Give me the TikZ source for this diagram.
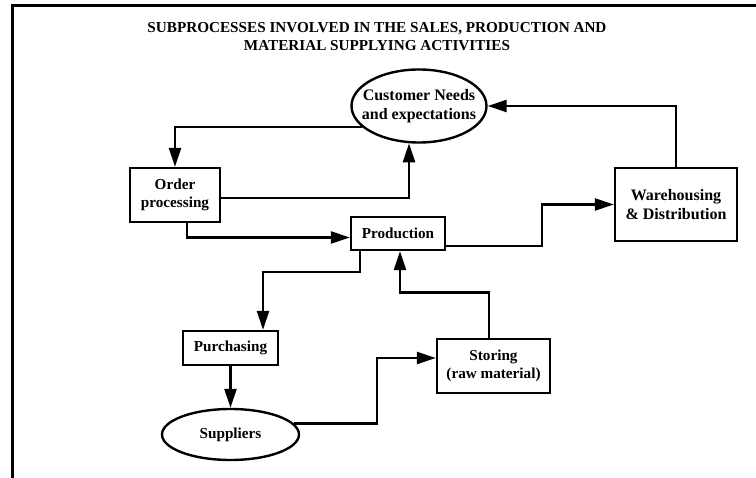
\documentclass[tikz,border=0pt]{standalone}
\usepackage{fontspec}
\setmainfont{Liberation Serif}
\usetikzlibrary{arrows.meta,shapes.geometric}
\begin{document}
\begin{tikzpicture}[x=1pt,y=-1pt,
  txt/.style={font=\fontsize{15.2}{18.5}\selectfont\bfseries,align=center},
  bigtxt/.style={font=\fontsize{16}{19}\selectfont\bfseries,align=center},
  box/.style={draw,line width=2.4pt,inner sep=0pt,txt},
  oval/.style={ellipse,draw,line width=2.4pt,inner sep=0pt},
  flow/.style={line width=2.6pt,-{Triangle[length=19pt,width=12pt]}},
  heading/.style={align=center,font=\fontsize{15.2}{18}\selectfont\bfseries}]
\useasboundingbox (0,0) rectangle (756,478);
% frame
\draw[line width=3pt] (12,478) -- (12,6) -- (756,6);
% heading
\node[heading] (title) at (377,37) {SUBPROCESSES INVOLVED IN THE SALES, PRODUCTION AND\\MATERIAL SUPPLYING ACTIVITIES};
% process nodes
\node[oval, minimum width=135pt, minimum height=73pt,
      label={[bigtxt]center:Customer Needs\\and expectations}] (cust) at (419,106) {};
\node[box, minimum width=90pt, minimum height=54pt] (order) at (175,195) {Order\\processing};
\node[box, minimum width=94pt, minimum height=33pt] (prod) at (398,233.5) {Production};
\node[box, bigtxt, minimum width=122pt, minimum height=73pt] (ware) at (676,204.5) {Warehousing\\\& Distribution};
\node[box, minimum width=95pt, minimum height=34pt] (purch) at (230.5,348) {Purchasing};
\node[box, minimum width=113pt, minimum height=54pt] (store) at (493.5,366) {Storing\\(raw material)};
\node[oval, minimum width=137pt, minimum height=51pt,
      label={[txt]center:Suppliers}] (supp) at (230.5,434.5) {};
% bend points
\coordinate (pw) at (542,246);
\coordinate (sb) at (377,358);
% flows
\draw[flow] (cust.200) -| (order.north);
\draw[flow] ([yshift=-3pt]order.east) -| (cust.255);
\draw[flow] ([xshift=12pt]order.south) |- ([yshift=-4pt]prod.west);
\draw[flow] ([yshift=-12.5pt]prod.east) -- (pw) |- (ware.west);
\draw[flow] (ware.north) |- (cust.east);
\draw[flow] ([xshift=-38pt]prod.south) -- ++(0,21) -| ([xshift=32.5pt]purch.north);
\draw[flow] ([xshift=-4.5pt]store.north) -- ++(0,-45) -| ([xshift=2pt]prod.south);
\draw[flow] (purch.south) -- (supp.north);
\draw[flow] (supp.10) -| (sb) -- ([yshift=8pt]store.west);
\end{tikzpicture}
\end{document}
